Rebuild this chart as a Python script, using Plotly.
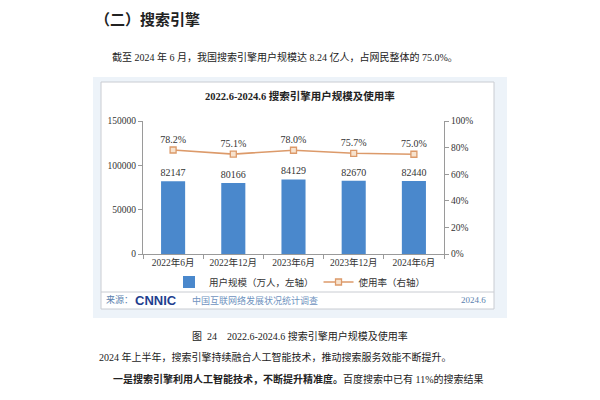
import plotly.graph_objects as go

categories = ["2022年6月", "2022年12月", "2023年6月", "2023年12月", "2024年6月"]
users = [82147, 80166, 84129, 82670, 82440]
rate = [78.2, 75.1, 78.0, 75.7, 75.0]
rate_labels = ["78.2%", "75.1%", "78.0%", "75.7%", "75.0%"]

SERIF = "Liberation Serif, Noto Sans CJK SC"
TXT = "#333333"
BLUE = "#4a88cc"
ORANGE = "#dc9a6a"

fig = go.Figure()
fig.add_trace(go.Bar(
    x=categories, y=users, name="用户规模（万人，左轴）",
    marker=dict(color=BLUE, line=dict(width=0)), width=0.4,
    text=[str(v) for v in users], textposition="outside", constraintext="none",
    textfont=dict(family=SERIF, size=10, color=TXT), cliponaxis=False,
))
fig.add_trace(go.Scatter(
    x=categories, y=rate, name="使用率（右轴）", yaxis="y2",
    mode="lines+markers+text", line=dict(color=ORANGE, width=1.6),
    marker=dict(symbol="square", size=6, color="#f7e3cf", line=dict(color=ORANGE, width=1.3)),
    text=rate_labels, textposition="top center",
    textfont=dict(family=SERIF, size=10, color=TXT), cliponaxis=False,
))

W, H = 600, 400
def px(x): return x / W
def py(y): return 1 - y / H

shapes = [
    dict(type="rect", xref="paper", yref="paper", x0=px(93), x1=px(507), y0=py(318), y1=py(77),
         fillcolor="#edf3f9", line=dict(width=0), layer="below"),
    dict(type="rect", xref="paper", yref="paper", x0=px(101), x1=px(494), y0=py(309), y1=py(82),
         fillcolor="#ffffff", line=dict(color="#c9ccd2", width=1), layer="below"),
    dict(type="line", xref="paper", yref="paper", x0=px(101), x1=px(494), y0=py(292), y1=py(292),
         line=dict(color="#c9ccd2", width=1)),
]

def ann(text, x, y, xanchor, size, color="#222222", family=SERIF):
    return dict(text=text, x=x, y=y, xref="paper", yref="paper", xanchor=xanchor, yanchor="middle",
                showarrow=False, font=dict(family=family, size=size, color=color))

annotations = [
    ann("<b>（二）搜索引擎</b>", px(93), py(18), "left", 15, family="Noto Sans CJK SC"),
    ann("截至 2024 年 6 月，我国搜索引擎用户规模达 8.24 亿人，占网民整体的 75.0%。", px(110), py(57), "left", 10),
    ann("<b>2022.6-2024.6 搜索引擎用户规模及使用率</b>", 0.5, py(96), "center", 10.5),
    ann("来源：", px(104), py(300), "left", 9, "#5b7fae"),
    ann("<b>CNNIC</b>", px(133), py(300), "left", 13, "#1f3f8f", "Liberation Sans"),
    ann("中国互联网络发展状况统计调查", px(190), py(300), "left", 9, "#6f93c0"),
    ann("2024.6", px(488), py(300), "right", 9, "#5b7fae"),
    ann("图  24    2022.6-2024.6 搜索引擎用户规模及使用率", 0.5, py(336), "center", 10),
    ann("2024 年上半年，搜索引擎持续融合人工智能技术，推动搜索服务效能不断提升。", px(97), py(357), "left", 10),
    ann("<b>一是搜索引擎利用人工智能技术，不断提升精准度。</b>百度搜索中已有 11%的搜索结果", px(111), py(379), "left", 10),
]

axis_common = dict(showgrid=False, showline=True, linecolor="#9a9a9a", ticks="outside", ticklen=4,
                   tickcolor="#9a9a9a", tickfont=dict(family=SERIF, size=9.5, color=TXT), zeroline=False)

fig.update_layout(
    width=W, height=H, margin=dict(l=0, r=0, t=0, b=0),
    paper_bgcolor="white", plot_bgcolor="rgba(0,0,0,0)",
    font=dict(family=SERIF, size=9, color=TXT),
    showlegend=True,
    legend=dict(orientation="h", x=0.5, xanchor="center", y=py(282), yanchor="middle",
                font=dict(family=SERIF, size=9.5, color=TXT), bgcolor="rgba(0,0,0,0)",
                itemwidth=30),
    xaxis=dict(domain=[px(143), px(444)], tickson="boundaries", tickangle=0, anchor="y",
               automargin=False, **axis_common),
    yaxis=dict(domain=[py(254), py(121)], range=[0, 150000], tickvals=[0, 50000, 100000, 150000],
               ticktext=["0", "50000", "100000", "150000"], automargin=False, **axis_common),
    yaxis2=dict(overlaying="y", side="right", range=[0, 100], tickvals=[0, 20, 40, 60, 80, 100],
                ticktext=["0%", "20%", "40%", "60%", "80%", "100%"], anchor="x", automargin=False,
                **axis_common),
    shapes=shapes, annotations=annotations,
)

fig.write_html("out.html")
